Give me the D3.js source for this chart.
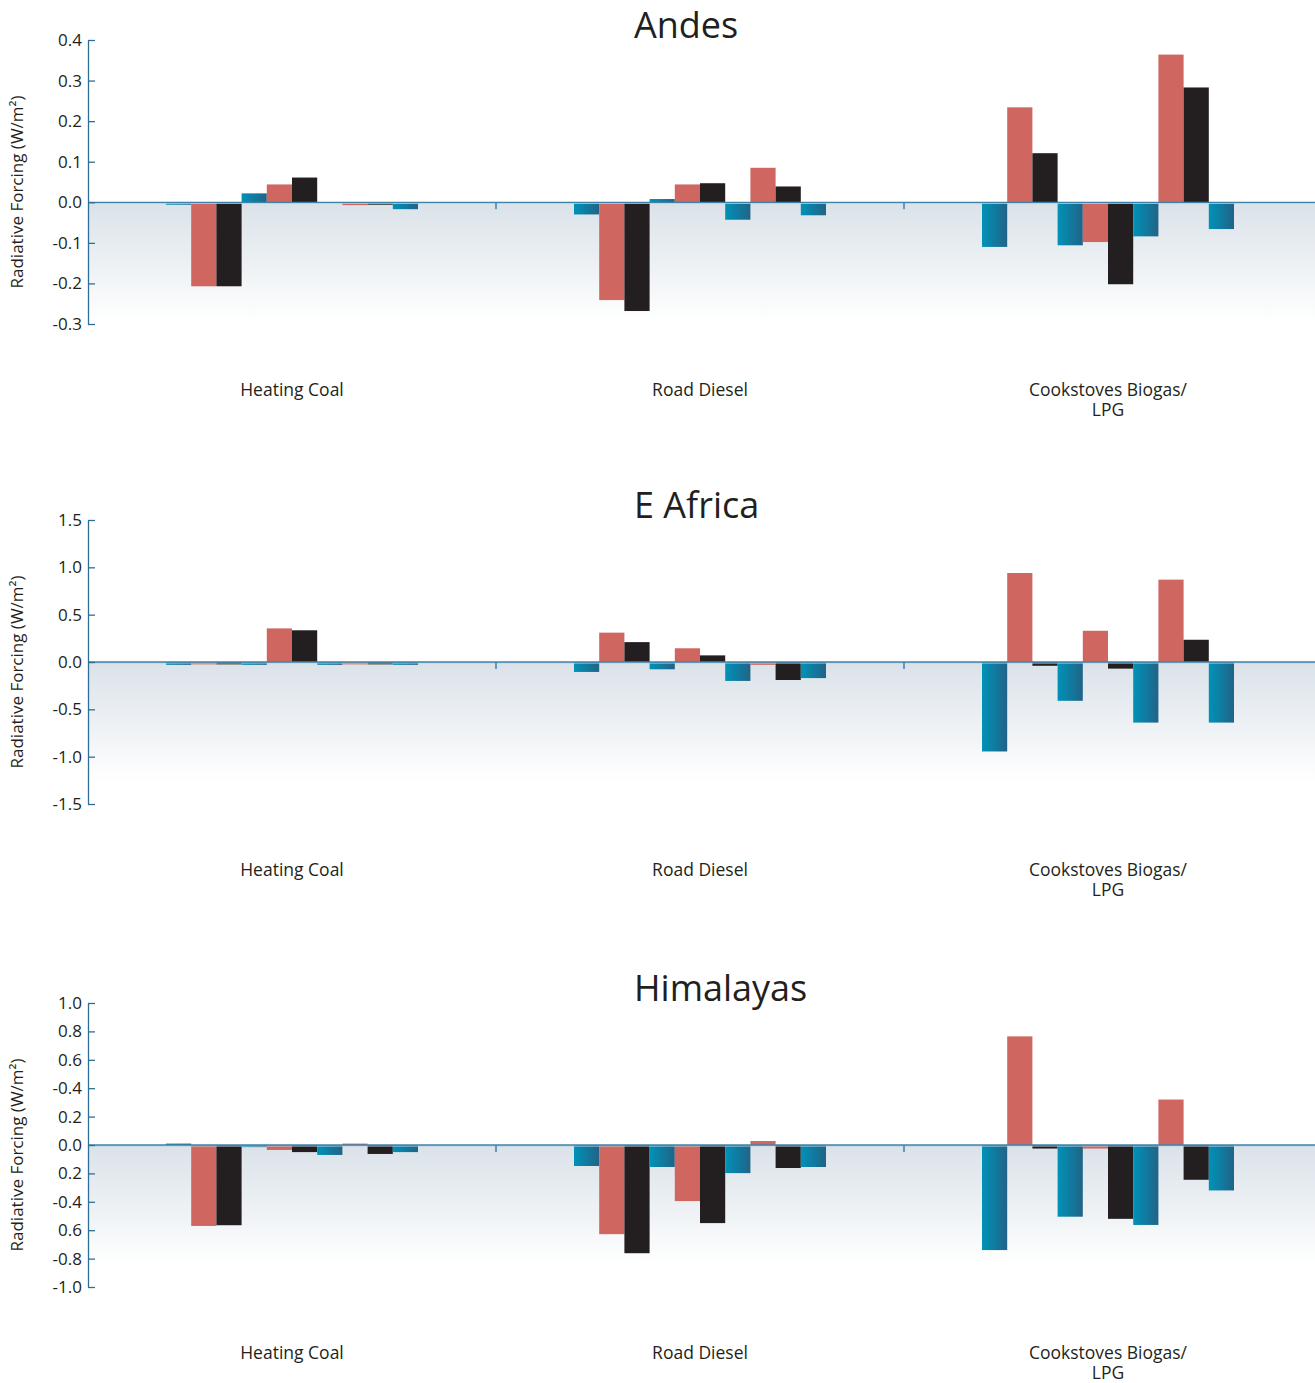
<!DOCTYPE html>
<html>
<head>
<meta charset="utf-8">
<script src="https://cdn.jsdelivr.net/npm/d3@7"></script>
<style>
  html, body { margin: 0; padding: 0; background: #fff; }
  svg { display: block; font-family: "Open Sans", "Noto Sans", sans-serif; }
</style>
</head>
<body>
<svg id="chart" width="1315" height="1383"></svg>
<script>
// ---------- DATA ----------
const regions = ["Andes", "E Africa", "Himalayas"];
const categories = ["Heating Coal", "Road Diesel", "Cookstoves Biogas/LPG"];
const categoryLabelLines = [["Heating Coal"], ["Road Diesel"], ["Cookstoves Biogas/", "LPG"]];
const barKinds = ["blue", "red", "black", "blue", "red", "black", "blue", "red", "black", "blue"];

// values per category, 10 bars each
const andesValues = [
  [-0.006, -0.207, -0.207, 0.022, 0.044, 0.061, 0.0, -0.007, -0.006, -0.017],
  [-0.030, -0.241, -0.268, 0.008, 0.044, 0.047, -0.043, 0.085, 0.039, -0.032],
  [-0.110, 0.234, 0.121, -0.106, -0.098, -0.202, -0.084, 0.364, 0.283, -0.066]
];
const eAfricaValues = [
  [-0.03, -0.025, -0.025, -0.03, 0.355, 0.335, -0.03, -0.025, -0.025, -0.03],
  [-0.105, 0.31, 0.21, -0.077, 0.145, 0.07, -0.20, -0.03, -0.19, -0.17],
  [-0.945, 0.94, -0.04, -0.41, 0.33, -0.07, -0.64, 0.87, 0.235, -0.64]
];
const himalayasValues = [
  [0.01, -0.57, -0.565, -0.015, -0.035, -0.05, -0.07, 0.01, -0.063, -0.05],
  [-0.148, -0.628, -0.762, -0.155, -0.395, -0.55, -0.198, 0.028, -0.162, -0.155],
  [-0.74, 0.765, -0.025, -0.505, -0.025, -0.52, -0.563, 0.32, -0.245, -0.32]
];

const andesTicks = [0.4, 0.3, 0.2, 0.1, 0.0, -0.1, -0.2, -0.3];
const andesTickLabels = ["0.4", "0.3", "0.2", "0.1", "0.0", "-0.1", "-0.2", "-0.3"];
const eAfricaTicks = [1.5, 1.0, 0.5, 0.0, -0.5, -1.0, -1.5];
const eAfricaTickLabels = ["1.5", "1.0", "0.5", "0.0", "-0.5", "-1.0", "-1.5"];
const himalayasTicks = [1.0, 0.8, 0.6, 0.4, 0.2, 0.0, -0.2, -0.4, -0.6, -0.8, -1.0];
const himalayasTickLabels = ["1.0", "0.8", "0.6", "-0.4", "0.2", "0.0", "0.2", "-0.4", "0.6", "-0.8", "-1.0"];

const yAxisTitle = "Radiative Forcing (W/m\u00B2)";

// ---------- STYLE / LAYOUT ----------
const colors = { red: "#CF6660", black: "#231F20", blue: "url(#barBlue)" };
const axisColor = "#2f6f95";
const panelTops = [40, 520, 1003];
const axisHeight = 284;
const axisX = 88;
const plotRight = 1315;

const svg = d3.select("#chart");
const defs = svg.append("defs");
const gb = defs.append("linearGradient").attr("id", "barBlue").attr("x1", "0").attr("x2", "1").attr("y1", "0").attr("y2", "0");
gb.append("stop").attr("offset", "0%").attr("stop-color", "#0092B8");
gb.append("stop").attr("offset", "100%").attr("stop-color", "#216387");
const gf = defs.append("linearGradient").attr("id", "bgFade").attr("x1", "0").attr("x2", "0").attr("y1", "0").attr("y2", "1");
gf.append("stop").attr("offset", "0%").attr("stop-color", "#DAE2E9");
gf.append("stop").attr("offset", "100%").attr("stop-color", "#ffffff");

const panels = [
  { name: regions[0], values: andesValues, ticks: andesTicks, labels: andesTickLabels },
  { name: regions[1], values: eAfricaValues, ticks: eAfricaTicks, labels: eAfricaTickLabels },
  { name: regions[2], values: himalayasValues, ticks: himalayasTicks, labels: himalayasTickLabels }
];

const x0 = d3.scaleBand().domain(categories).range([axisX, axisX + 408 * 3]).padding(0);
const x1 = d3.scaleBand().domain(d3.range(barKinds.length)).range([78, 330]).padding(0);

panels.forEach((p, pi) => {
  const top = panelTops[pi];
  const y = d3.scaleLinear().domain([d3.min(p.ticks), d3.max(p.ticks)]).range([top + axisHeight, top]);
  const g = svg.append("g");
  const y0 = y(0);

  // background fade below zero
  g.append("rect").attr("x", axisX).attr("y", y0).attr("width", plotRight - axisX).attr("height", 120)
    .attr("fill", "url(#bgFade)");

  // bars
  categories.forEach((cat, ci) => {
    const cg = g.append("g").attr("transform", `translate(${x0(cat)},0)`);
    cg.selectAll("rect").data(p.values[ci]).join("rect")
      .attr("x", (d, i) => x1(i))
      .attr("width", x1.bandwidth())
      .attr("y", d => Math.min(y(d), y0))
      .attr("height", d => Math.abs(y(d) - y0))
      .attr("fill", (d, i) => colors[barKinds[i]]);
  });

  // zero line (category axis)
  g.append("line").attr("x1", axisX).attr("x2", plotRight).attr("y1", y0 + 1).attr("y2", y0 + 1)
    .attr("stroke", "#b9d0dd").attr("stroke-width", 1);
  g.append("line").attr("x1", axisX).attr("x2", plotRight).attr("y1", y0).attr("y2", y0)
    .attr("stroke", "#3f82a8").attr("stroke-width", 1.3);
  g.selectAll(".ctick").data(categories.slice(1)).join("line")
    .attr("x1", d => x0(d)).attr("x2", d => x0(d))
    .attr("y1", y0).attr("y2", y0 + 7)
    .attr("stroke", "#3f82a8").attr("stroke-width", 1.5);

  // y axis
  const axis = d3.axisLeft(y).tickValues(p.ticks)
    .tickFormat((d, i) => p.labels[i])
    .tickSizeInner(-7).tickSizeOuter(0).tickPadding(6);
  const ag = g.append("g").attr("transform", `translate(${axisX},0)`).call(axis);
  ag.select(".domain").attr("stroke", axisColor).attr("stroke-width", 1.3);
  ag.selectAll(".tick line").attr("stroke", axisColor).attr("stroke-width", 1.3);
  ag.selectAll(".tick text").attr("fill", "#231F20").style("font-size", "17px")
    .style("font-family", "'Open Sans', sans-serif");

  // y axis title
  g.append("text")
    .attr("transform", `translate(23,${top + 152}) rotate(-90)`)
    .attr("text-anchor", "middle")
    .attr("fill", "#231F20").style("font-size", "17px")
    .text(yAxisTitle);

  // panel title
  g.append("text").attr("x", 634).attr("y", top - 2)
    .attr("fill", "#231F20").style("font-size", "36px")
    .text(p.name);

  // category labels
  categories.forEach((cat, ci) => {
    const t = g.append("text").attr("text-anchor", "middle")
      .attr("x", x0(cat) + x0.bandwidth() / 2)
      .attr("y", top + axisHeight + 72)
      .attr("fill", "#231F20").style("font-size", "17.5px");
    categoryLabelLines[ci].forEach((line, li) => {
      t.append("tspan").attr("x", x0(cat) + x0.bandwidth() / 2).attr("dy", li === 0 ? 0 : 20).text(line);
    });
  });
});
</script>
</body>
</html>
